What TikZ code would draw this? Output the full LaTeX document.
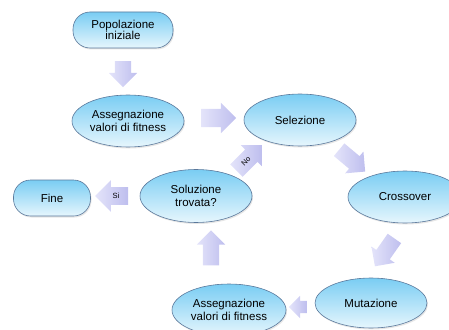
\documentclass[tikz,border=0pt]{standalone}
\usepackage{fontspec}
\setmainfont{Liberation Sans}
\usetikzlibrary{shapes.arrows,shapes.geometric,shadows}

\definecolor{cellatop}{RGB}{122,205,243}
\definecolor{cellabot}{RGB}{230,246,253}
\definecolor{bordo}{RGB}{90,120,155}
\definecolor{frecciachiara}{RGB}{228,228,250}
\definecolor{frecciascura}{RGB}{190,190,238}

\tikzset{
    cella/.style={draw=bordo, line width=0.6pt, top color=cellatop, bottom color=cellabot,
        align=center, inner sep=0pt, font=\fontsize{11.5}{12.5}\selectfont,
        drop shadow={opacity=0.2, shadow xshift=1pt, shadow yshift=-1.5pt}},
    ovale/.style={cella, ellipse, minimum width=112pt, minimum height=52pt},
    capsula/.style={cella, rectangle, rounded corners=17pt, minimum height=36pt},
    freccia/.style={single arrow, draw=none, left color=frecciachiara, right color=frecciascura,
        inner xsep=1pt, inner ysep=8pt, single arrow head extend=6pt,
        font=\fontsize{7.5}{8}\selectfont},
    scritta/.style={inner ysep=6pt}
}

\begin{document}
\begin{tikzpicture}[x=1pt, y=-1pt]
    \useasboundingbox (0,0) rectangle (449,329);

    % nodi
    \node[capsula, minimum width=100pt] (pop) at (123,30) {Popolazione\\[-2pt]iniziale};
    \node[ovale] (ass1) at (128,121) {Assegnazione\\valori di fitness};
    \node[ovale] (sel) at (300,120) {Selezione};
    \node[ovale, minimum width=114pt] (cross) at (405,197) {Crossover};
    \node[ovale, minimum height=50pt] (mut) at (371,303) {Mutazione};
    \node[ovale, minimum width=114pt] (ass2) at (229,310) {Assegnazione\\valori di fitness};
    \node[ovale, minimum height=53pt] (sol) at (196,196) {Soluzione\\trovata?};
    \node[capsula, minimum width=77pt] (fine) at (52,198) {Fine};

    % frecce
    \node[freccia, rotate=-90, minimum height=26pt] (f1) at (123,70) {};
    \node[freccia, inner ysep=9pt, minimum height=35pt] (f2) at (214,118) {};
    \node[freccia, rotate=-40, minimum height=34pt] (f3) at (349,158) {};
    \node[freccia, rotate=-125, minimum height=34pt] (f4) at (387,249) {};
    \node[freccia, shape border rotate=180, inner ysep=6pt, single arrow head extend=5pt,
        minimum height=18pt] (f5) at (301,307) {};
    \node[freccia, rotate=90, minimum height=35pt] (f6) at (211,252) {};
    \node[freccia, scritta, rotate=45, minimum height=36pt] (fno) at (246,161) {No};
    \node[freccia, scritta, shape border rotate=180, single arrow head extend=7pt,
        minimum height=33pt] (fsi) at (116,196) {Si};
\end{tikzpicture}
\end{document}
